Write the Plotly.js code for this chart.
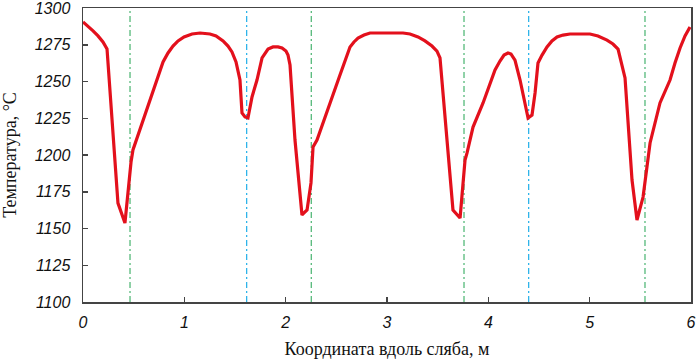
<!DOCTYPE html>
<html>
<head>
<meta charset="utf-8">
<script src="https://cdn.plot.ly/plotly-3.0.1.min.js"></script>
<style>html,body{margin:0;padding:0;background:#fff;}#chart{width:698px;height:363px;}</style>
</head>
<body>
<div id="chart"></div>
<script>
// Coordinate along slab, m
const xPos = [0.000,0.049,0.099,0.148,0.197,0.237,0.345,0.414,0.454,0.474,0.493,0.790,0.839,0.888,0.938,0.997,1.076,1.155,1.253,1.313,1.382,1.431,1.470,1.510,1.549,1.569,1.599,1.628,1.668,1.717,1.767,1.796,1.826,1.875,1.924,1.964,2.003,2.023,2.043,2.092,2.161,2.211,2.250,2.270,2.309,2.536,2.635,2.674,2.714,2.773,2.832,3.158,3.227,3.306,3.375,3.444,3.493,3.523,3.651,3.721,3.750,3.770,3.790,3.849,3.948,4.066,4.115,4.155,4.194,4.224,4.263,4.313,4.392,4.431,4.461,4.490,4.530,4.579,4.628,4.678,4.737,4.806,5.003,5.082,5.171,5.230,5.280,5.349,5.418,5.467,5.527,5.566,5.596,5.694,5.793,5.842,5.892,5.941,5.990];
// Temperature, °C
const temp = [1290.5,1287.8,1284.4,1281.0,1276.9,1272.1,1167.3,1153.7,1183.0,1195.2,1203.4,1263.3,1269.4,1274.1,1277.6,1280.3,1282.3,1283.0,1282.3,1281.0,1277.6,1274.1,1270.1,1263.3,1251.0,1228.6,1225.9,1225.2,1239.5,1251.0,1266.0,1269.4,1272.1,1273.5,1273.5,1272.8,1270.7,1268.0,1261.2,1210.2,1159.2,1162.6,1181.0,1205.4,1210.2,1254.4,1273.5,1276.9,1279.6,1281.6,1283.0,1283.0,1282.3,1280.3,1277.6,1274.1,1270.7,1266.0,1162.6,1157.1,1178.2,1196.6,1201.4,1219.0,1235.4,1257.8,1263.9,1268.0,1269.4,1268.7,1264.6,1251.0,1225.2,1227.2,1242.2,1262.6,1268.0,1273.5,1277.6,1280.3,1281.6,1282.3,1282.3,1281.0,1278.2,1275.5,1272.1,1252.4,1183.0,1155.8,1171.4,1191.8,1208.2,1235.4,1251.0,1262.6,1272.8,1281.0,1287.1];
// Vertical marker lines
const greenLines = [0.464, 2.253, 3.760, 5.546];
const blueLines = [1.615, 4.398];
const xTicks = [0,1,2,3,4,5,6];
const yTicks = [1100,1125,1150,1175,1200,1225,1250,1275,1300];

const shapes = [];
greenLines.forEach(v => shapes.push({type:'line', xref:'x', yref:'paper', x0:v, x1:v, y0:0, y1:1, layer:'below',
  line:{color:'#55b97a', width:1.3, dash:'6px,3px,2px,3px'}}));
blueLines.forEach(v => shapes.push({type:'line', xref:'x', yref:'paper', x0:v, x1:v, y0:0, y1:1, layer:'below',
  line:{color:'#2fb4ea', width:1.3, dash:'6px,3px,2px,3px'}}));

const tickFont = {family:'"Liberation Sans", Arial, sans-serif', size:16, style:'italic', color:'#111'};
const titleFont = {family:'"Liberation Serif", "Times New Roman", serif', size:18, color:'#111'};

Plotly.newPlot('chart', [{
  x: xPos, y: temp, type:'scatter', mode:'lines',
  line:{color:'#e3101c', width:3.2},
  hoverinfo:'skip'
}], {
  width:698, height:363,
  margin:{l:83, r:7, t:8, b:61},
  paper_bgcolor:'#fff', plot_bgcolor:'#fff',
  showlegend:false,
  shapes: shapes,
  xaxis:{range:[0,6], tickvals:xTicks, ticktext:xTicks.map(String), ticks:'inside', ticklen:5, tickwidth:1.5, tickcolor:'#444',
    showline:true, linecolor:'#444', linewidth:1.5, mirror:true, showgrid:false, zeroline:false,
    tickfont:tickFont, ticklabelstandoff:5, ticklabeloverflow:'allow',
    title:{text:'Координата вдоль сляба, м', font:titleFont, standoff:12}},
  yaxis:{range:[1100,1300], tickvals:yTicks, ticktext:yTicks.map(String), ticks:'inside', ticklen:5, tickwidth:1.5, tickcolor:'#444',
    showline:true, linecolor:'#444', linewidth:1.5, mirror:true, showgrid:false, zeroline:false,
    tickfont:tickFont, ticklabelstandoff:8, ticklabeloverflow:'allow',
    title:{text:'Температура, °C', font:titleFont, standoff:14}}
}, {staticPlot:true});
</script>
</body>
</html>
